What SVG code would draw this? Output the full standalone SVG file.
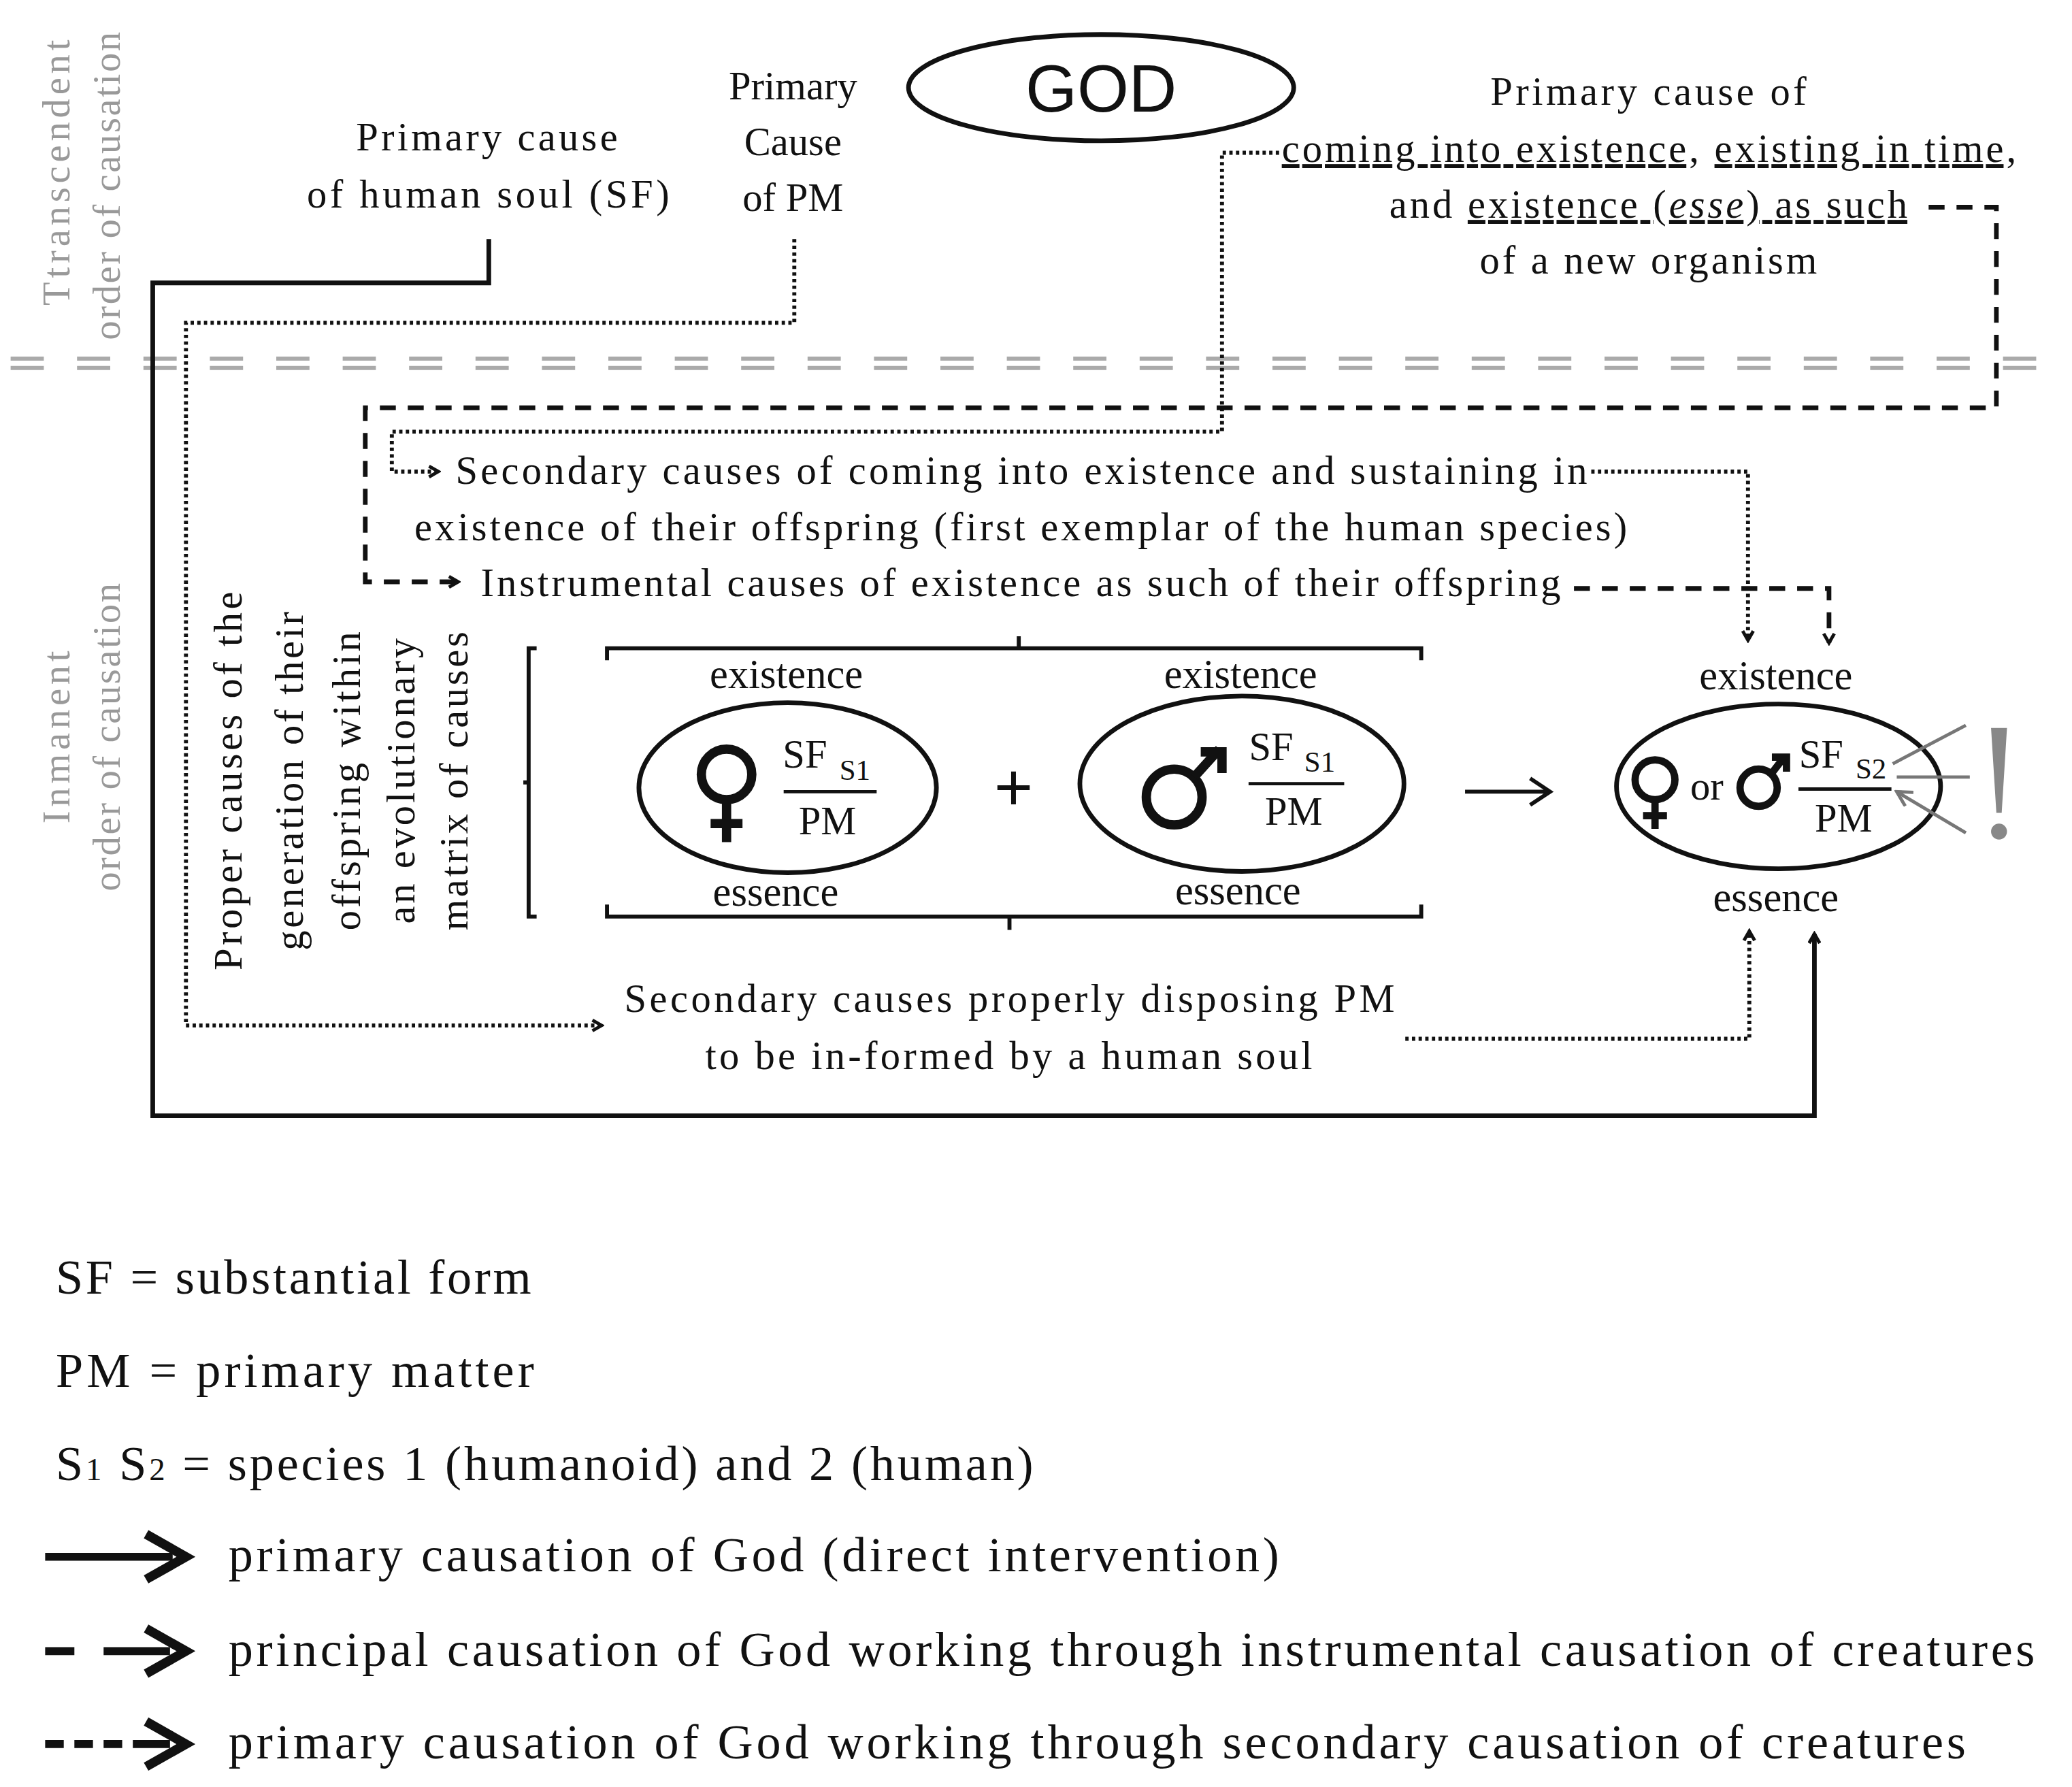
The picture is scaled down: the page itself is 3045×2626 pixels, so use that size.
<svg xmlns="http://www.w3.org/2000/svg" width="3045" height="2626" viewBox="0 0 3045 2626">
<style>
text{font-family:"Liberation Serif",serif;font-size:30px;fill:#111}
.g{fill:#999}
.c{text-anchor:middle}
.lg{font-size:37px}
.ln{fill:none;stroke:#111;stroke-width:3}
.sol{fill:none;stroke:#111;stroke-width:3.5}
.dot{fill:none;stroke:#111;stroke-width:3;stroke-dasharray:2.5 2.5}
.dsh{fill:none;stroke:#111;stroke-width:3.5;stroke-dasharray:12 9}
</style>
<defs>
<marker id="ah" markerWidth="10" markerHeight="10" refX="8" refY="5" orient="auto" markerUnits="userSpaceOnUse"><path d="M1,1 L8,5 L1,9" fill="none" stroke="#111" stroke-width="2.5"/></marker>
<marker id="ahg" markerWidth="14" markerHeight="14" refX="12" refY="7" orient="auto" markerUnits="userSpaceOnUse"><path d="M1,1 L12,7 L1,13" fill="none" stroke="#777" stroke-width="2.5"/></marker>
</defs>
<rect width="3045" height="2626" fill="#fff"/>
<g transform="scale(1.952)">
<g id="labels-side">
<text class="g c" transform="translate(52,130) rotate(-90)" style="font-size:29px" textLength="200" lengthAdjust="spacing">Ttranscendent</text>
<text class="g c" transform="translate(90,140) rotate(-90)" style="font-size:29px" textLength="232" lengthAdjust="spacing">order of causation</text>
<text class="g c" transform="translate(52,555) rotate(-90)" style="font-size:29px" textLength="130" lengthAdjust="spacing">Inmanent</text>
<text class="g c" transform="translate(90,555) rotate(-90)" style="font-size:29px" textLength="232" lengthAdjust="spacing">order of causation</text>
</g>
<g id="divider">
<line x1="8" y1="270" x2="1552" y2="270" stroke="#aaa" stroke-width="3" stroke-dasharray="25 25"/>
<line x1="8" y1="277" x2="1552" y2="277" stroke="#aaa" stroke-width="3" stroke-dasharray="25 25"/>
</g>
<g id="god">
<ellipse cx="829" cy="66" rx="145" ry="40" fill="#fff" stroke="#111" stroke-width="3.5"/>
<text class="c" x="829" y="84" style="font-family:'Liberation Sans',sans-serif;font-size:50px">GOD</text>
</g>
<g id="pc-soul"><text x="268" y="113" textLength="197" lengthAdjust="spacing">Primary  cause</text><text x="231" y="156" textLength="273" lengthAdjust="spacing">of human  soul  (SF)</text></g>
<g id="pc-pm"><text class="c" x="597" y="75">Primary</text><text class="c" x="597" y="117">Cause</text><text class="c" x="597" y="159">of PM</text></g>
<g id="pc-exist">
<text x="1122" y="79" textLength="238" lengthAdjust="spacing">Primary  cause  of</text>
<text x="965" y="122" textLength="553" lengthAdjust="spacing"><tspan text-decoration="underline">coming  into existence</tspan>, <tspan text-decoration="underline">existing  in time</tspan>,</text>
<text x="1046" y="164" textLength="390" lengthAdjust="spacing">and <tspan text-decoration="underline">existence (<tspan font-style="italic">esse</tspan>) as such</tspan></text>
<text x="1114" y="206" textLength="254" lengthAdjust="spacing">of a new organism</text>
</g>
<g id="sec1"><text x="343" y="364" textLength="852" lengthAdjust="spacing">Secondary  causes  of coming  into existence and sustaining  in</text>
<text x="312" y="407" textLength="913" lengthAdjust="spacing">existence of their offspring  (first exemplar  of the human  species)</text></g>
<g id="instr"><text x="362" y="449" textLength="813" lengthAdjust="spacing">Instrumental  causes of existence as such of their offspring</text></g>
<g id="proper">
<text class="c" transform="translate(182,588) rotate(-90)" textLength="285" lengthAdjust="spacing">Proper causes of the</text>
<text class="c" transform="translate(228,588) rotate(-90)" textLength="255" lengthAdjust="spacing">generation of their</text>
<text class="c" transform="translate(271,588) rotate(-90)" textLength="225" lengthAdjust="spacing">offspring within</text>
<text class="c" transform="translate(312,588) rotate(-90)" textLength="215" lengthAdjust="spacing">an evolutionary</text>
<text class="c" transform="translate(352,588) rotate(-90)" textLength="225" lengthAdjust="spacing">matrix of causes</text>
</g>
<g id="brackets">
<path class="ln" d="M404,488 H398 V690 H404 M398,589 H394"/>
<path class="ln" d="M457,497 V488 H1070 V497 M767,488 V479"/>
<path class="ln" d="M457,681 V690 H1070 V681 M760,690 V700"/>
</g>
<g id="parent-f">
<text class="c" x="592" y="518" style="font-size:31px">existence</text>
<ellipse cx="593" cy="593" rx="112" ry="64" fill="none" stroke="#111" stroke-width="3.5"/>
<circle cx="547" cy="583" r="19" fill="none" stroke="#111" stroke-width="7"/>
<path d="M547,602 V634 M535,620 H559" stroke="#111" stroke-width="7"/>
<text class="c" x="606" y="578">SF</text><text x="632" y="587" style="font-size:22px">S1</text>
<line x1="590" y1="596" x2="660" y2="596" stroke="#111" stroke-width="2.5"/>
<text class="c" x="623" y="628">PM</text>
<text class="c" x="584" y="682" style="font-size:31px">essence</text>
</g>
<text class="c" x="763" y="610" style="font-size:50px;font-family:'Liberation Sans',sans-serif">+</text>
<g id="parent-m">
<text class="c" x="934" y="518" style="font-size:31px">existence</text>
<ellipse cx="935" cy="590" rx="122" ry="66" fill="none" stroke="#111" stroke-width="3.5"/>
<circle cx="884" cy="600" r="21" fill="none" stroke="#111" stroke-width="7"/>
<path d="M899,585 L918,564 M904,566 H920 V582" stroke="#111" stroke-width="7" fill="none"/>
<text class="c" x="957" y="572">SF</text><text x="982" y="581" style="font-size:22px">S1</text>
<line x1="940" y1="590" x2="1012" y2="590" stroke="#111" stroke-width="2.5"/>
<text class="c" x="974" y="621">PM</text>
<text class="c" x="932" y="681" style="font-size:31px">essence</text>
</g>
<path d="M1103,596 H1165 M1152,586 L1167,596 L1152,606" fill="none" stroke="#111" stroke-width="3"/>
<g id="offspring">
<text class="c" x="1337" y="519" style="font-size:31px">existence</text>
<ellipse cx="1339" cy="592" rx="122" ry="62" fill="none" stroke="#111" stroke-width="3.5"/>
<circle cx="1246" cy="587" r="15" fill="none" stroke="#111" stroke-width="5.5"/>
<path d="M1246,602 V624 M1237,614 H1255" stroke="#111" stroke-width="5.5"/>
<text class="c" x="1285" y="602">or</text>
<circle cx="1324" cy="593" r="14" fill="none" stroke="#111" stroke-width="5.5"/>
<path d="M1334,582 L1344,569 M1334,570 H1345 V581" stroke="#111" stroke-width="5.5" fill="none"/>
<text class="c" x="1371" y="578">SF</text><text x="1397" y="586" style="font-size:22px">S2</text>
<line x1="1354" y1="594" x2="1424" y2="594" stroke="#111" stroke-width="2.5"/>
<text class="c" x="1388" y="626">PM</text>
<text class="c" x="1337" y="686" style="font-size:31px">essence</text>
<path d="M1480,546 L1425,575 M1483,585 L1428,585 M1480,627 L1428,596" stroke="#777" stroke-width="2.5" fill="none" marker-end="url(#ahg)"/>
<path d="M1499,548 L1511,548 L1507,612 L1503,612 Z" fill="#888"/>
<circle cx="1505" cy="626" r="6" fill="#888"/>
</g>
<g id="sec2"><text x="470" y="762" textLength="580" lengthAdjust="spacing">Secondary  causes  properly  disposing  PM</text>
<text x="531" y="805" textLength="457" lengthAdjust="spacing">to be in-formed  by a human  soul</text></g>
<g id="connectors">
<path class="sol" d="M368,180 V213 H115 V840 H1366 V703" marker-end="url(#ah)"/>
<path class="dot" d="M598,180 V243 H140 V772 H453" marker-end="url(#ah)"/>
<path class="dot" d="M963,115 H920 V325 H295 V355 H330" marker-end="url(#ah)"/>
<path class="dsh" d="M1452,156 H1503 V307 H275 V438 H345" marker-end="url(#ah)"/>
<path class="dot" d="M1198,355 H1316 V482" marker-end="url(#ah)"/>
<path class="dsh" d="M1185,443 H1377 V484" marker-end="url(#ah)"/>
<path class="dot" d="M1058,782 H1317 V701" marker-end="url(#ah)"/>
</g>
<g id="legend">
<text class="lg" x="42" y="974" textLength="358" lengthAdjust="spacing">SF = substantial form</text>
<text class="lg" x="42" y="1044" textLength="360" lengthAdjust="spacing">PM = primary matter</text>
<text class="lg" x="42" y="1114" textLength="736" lengthAdjust="spacing">S<tspan style="font-size:24px">1</tspan> S<tspan style="font-size:24px">2</tspan> = species 1 (humanoid) and 2 (human)</text>
<path d="M34,1172 H130" stroke="#111" stroke-width="6"/>
<path d="M34,1243 H56 M78,1243 H128" stroke="#111" stroke-width="6"/>
<path d="M34,1313 H48 M56,1313 H70 M78,1313 H92 M100,1313 H128" stroke="#111" stroke-width="6"/>
<path d="M110,1155 L140,1172 L110,1189 M110,1226 L140,1243 L110,1260 M110,1296 L140,1313 L110,1330" fill="none" stroke="#111" stroke-width="7"/>
<text class="lg" x="172" y="1183" textLength="791" lengthAdjust="spacing">primary causation of God (direct intervention)</text>
<text class="lg" x="172" y="1254" textLength="1360" lengthAdjust="spacing">principal causation of God working through instrumental causation of creatures</text>
<text class="lg" x="172" y="1324" textLength="1308" lengthAdjust="spacing">primary causation of God working through secondary causation of creatures</text>
</g>
</g>
</svg>
